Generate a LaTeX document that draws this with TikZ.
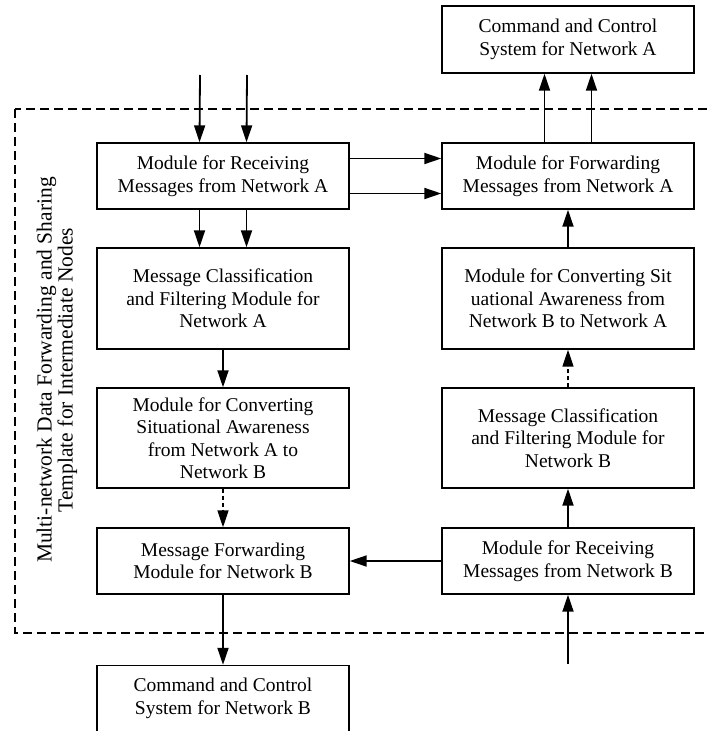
\documentclass[tikz,border=0pt]{standalone}
\usepackage{fontspec}
\setmainfont{Liberation Serif}
\usepackage{tikz}
\usetikzlibrary{arrows.meta,calc,positioning}

\begin{document}
\begin{tikzpicture}
[x=1pt,y=-1pt,>={Triangle[length=17pt,width=11pt]},
 modbox/.style={draw,line width=1.4pt,minimum width=252pt,align=center,inner sep=0pt,
   font=\fontsize{19.5}{22.5}\selectfont},
 flow/.style={->,line width=1.8pt},
 dflow/.style={->,line width=1.6pt,dash pattern=on 4pt off 3pt}]
\useasboundingbox (0,0) rectangle (707,731);
% template frame
\draw[line width=1.3pt,dash pattern=on 9pt off 5pt] (15,109) rectangle (712,633);
\node[rotate=90,align=center,font=\fontsize{21.5}{21}\selectfont] (tpl) at (57,370)
  {Multi-network Data Forwarding and Sharing\\Template for Intermediate Nodes};
% left column
\node[modbox,minimum height=66pt] (ra) at (223,176) {Module for Receiving\\Messages from Network A};
\node[modbox,minimum height=101pt] (ca) at (223,298.5) {Message Classification\\and Filtering Module for\\Network A};
\node[modbox,minimum height=100pt] (sab) at (223,438) {Module for Converting\\Situational Awareness\\from Network A to\\Network B};
\node[modbox,minimum height=66pt] (fb) at (223,561) {Message Forwarding\\Module for Network B};
\node[modbox,minimum height=66pt] (ccb) at (223,698.5) {Command and Control\\System for Network B};
% right column
\node[modbox,minimum height=67pt] (cca) at (568,39.5) {Command and Control\\System for Network A};
\node[modbox,minimum height=66pt] (fa) at (568,176) {Module for Forwarding\\Messages from Network A};
\node[modbox,minimum height=101pt] (sba) at (568,298.5) {Module for Converting Sit\\uational Awareness from\\Network B to Network A};
\node[modbox,minimum height=100pt] (cb) at (568,438) {Message Classification\\and Filtering Module for\\Network B};
\node[modbox,minimum height=66pt] (rb) at (568,561) {Module for Receiving\\Messages from Network B};
% free ends
\coordinate (ina1) at (200,75);
\coordinate (ina2) at (247,75);
\coordinate (inb) at (568,664);
% connectors
\draw[flow] (ina1) -- ([xshift=-23.5pt]ra.north);
\draw[flow] (ina2) -- ([xshift=23.5pt]ra.north);
\draw[flow] ([xshift=-23.5pt]ra.south) -- ([xshift=-23.5pt]ca.north);
\draw[flow] ([xshift=23.5pt]ra.south) -- ([xshift=23.5pt]ca.north);
\draw[flow] ([yshift=17.5pt]ra.east) -- ([yshift=17.5pt]fa.west);
\draw[flow] ([yshift=-17.5pt]ra.east) -- ([yshift=-17.5pt]fa.west);
\draw[flow] (ca) -- (sab);
\draw[dflow] (sab) -- (fb);
\draw[flow] (fb) -- (ccb);
\draw[flow] ([xshift=-23.5pt]fa.north) -- ([xshift=-23.5pt]cca.south);
\draw[flow] ([xshift=23.5pt]fa.north) -- ([xshift=23.5pt]cca.south);
\draw[flow] (sba) -- (fa);
\draw[dflow] (cb) -- (sba);
\draw[flow] (rb) -- (cb);
\draw[flow] (rb) -- (fb);
\draw[flow] (inb) -- (rb);
\end{tikzpicture}
\end{document}
